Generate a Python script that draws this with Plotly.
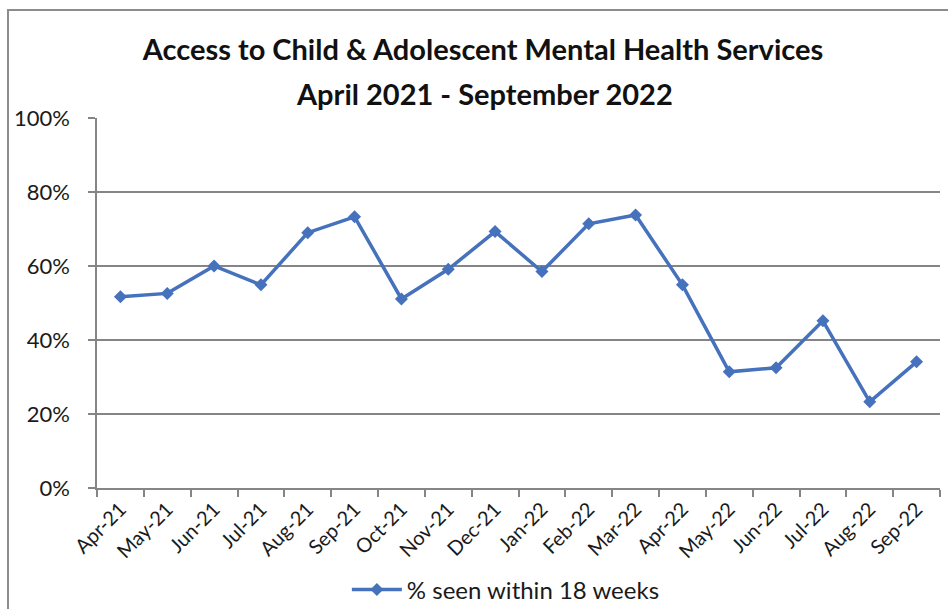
import plotly.graph_objects as go

months = ["Apr-21", "May-21", "Jun-21", "Jul-21", "Aug-21", "Sep-21", "Oct-21", "Nov-21", "Dec-21",
          "Jan-22", "Feb-22", "Mar-22", "Apr-22", "May-22", "Jun-22", "Jul-22", "Aug-22", "Sep-22"]
seen_within_18_weeks = [0.517, 0.526, 0.600, 0.549, 0.690, 0.733, 0.511, 0.591, 0.693,
                        0.585, 0.714, 0.738, 0.549, 0.314, 0.325, 0.452, 0.233, 0.341]
series_name = "% seen within 18 weeks"
title_line1 = "Access to Child & Adolescent Mental Health Services"
title_line2 = "April 2021 - September 2022"

W, H = 948, 609
L, R, T, B = 97, 8, 118, 121
pw, ph = W - L - R, H - T - B

fig = go.Figure()
fig.add_trace(go.Scatter(
    x=months, y=seen_within_18_weeks, mode="lines+markers", name=series_name,
    line=dict(color="#4671BD", width=3.5),
    marker=dict(symbol="diamond", size=10, color="#4671BD"),
))

grid = "#858585"
title_font = dict(size=29, family="Lato, sans-serif", color="#111111", weight="bold")
fig.update_layout(
    width=W, height=H,
    margin=dict(l=L, r=R, t=T, b=B, autoexpand=False),
    paper_bgcolor="white", plot_bgcolor="white",
    font=dict(family="Lato, Calibri, sans-serif", color="#1a1a1a"),
    title=dict(text=title_line1, x=483 / W, xanchor="center", y=1 - 50 / H, yanchor="middle",
               font=title_font),
    annotations=[dict(text=title_line2, xref="paper", yref="paper", x=(484 - L) / pw, xanchor="center",
                      y=(H - B - 93) / ph, yanchor="middle", showarrow=False, font=title_font)],
    showlegend=True,
    legend=dict(orientation="h", x=0.485, xanchor="center", y=(0 - (590 - (H - B))) / ph, yanchor="middle",
                font=dict(size=24), bgcolor="rgba(0,0,0,0)", itemwidth=50),
    xaxis=dict(type="category", showgrid=False, showline=True, linecolor=grid, linewidth=1.5,
               ticks="outside", tickson="boundaries", ticklen=7, tickcolor=grid, tickwidth=1.5,
               tickangle=-45, tickfont=dict(size=20), range=[-0.5, 17.5], automargin=False),
    yaxis=dict(range=[0, 1], dtick=0.2, tickformat=".0%", showgrid=True, gridcolor=grid, gridwidth=1.5,
               showline=True, linecolor=grid, linewidth=1.5, ticks="outside", ticklen=7, tickcolor=grid,
               tickwidth=1.5, tickfont=dict(size=22), zeroline=False, ticklabelstandoff=14,
               automargin=False),
    shapes=[dict(type="rect", xref="paper", yref="paper",
                 x0=(8 - L) / pw, x1=(970 - L) / pw, y0=(H - B - 640) / ph, y1=(H - B - 10) / ph,
                 line=dict(color="#8c8c8c", width=2), fillcolor="rgba(0,0,0,0)", layer="below")],
)

fig.write_html("out.html", config={"displayModeBar": False},
               post_script="document.body.style.margin='0';")
